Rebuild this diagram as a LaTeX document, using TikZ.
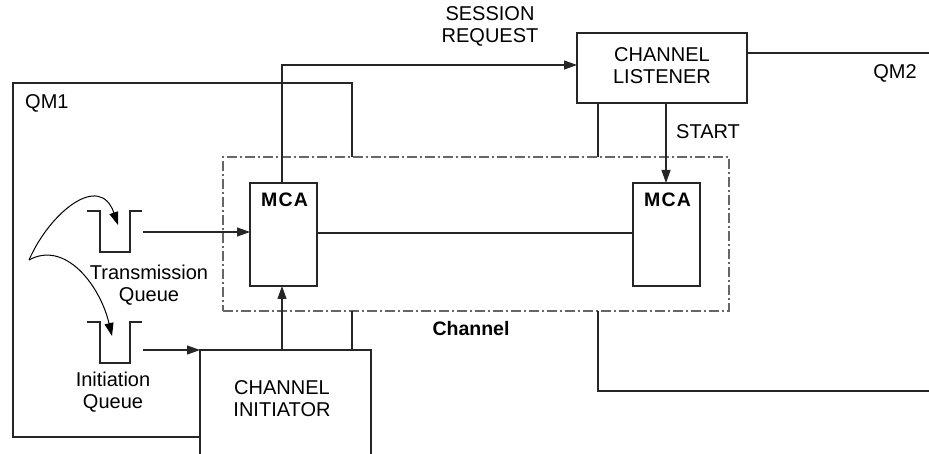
\documentclass[tikz,border=0pt]{standalone}
\usepackage{fontspec}
\setmainfont{Liberation Sans}
\usetikzlibrary{arrows.meta}
\begin{document}
\begin{tikzpicture}[x=1pt,y=-1pt,
  ln/.style={line width=1.2pt,draw=black!85},
  arr/.style={ln,-{Triangle[length=13pt,width=9pt]}},
  box/.style={ln,rectangle,inner sep=0pt,fill=white},
  txt/.style={inner sep=0pt,align=center,font=\fontsize{20}{22}\selectfont},
  btxt/.style={inner sep=0pt,align=center,font=\fontsize{19.5}{22}\selectfont\bfseries\addfontfeature{LetterSpace=6}},
  chtxt/.style={inner sep=0pt,align=center,font=\fontsize{19.5}{22}\selectfont\bfseries},
  chan/.style={line width=1.2pt,draw=black!60,dash pattern=on 10pt off 3pt on 2pt off 3pt}]
\useasboundingbox (0,0) rectangle (929,454);
% channel (dash-dot)
\node[chan,rectangle,minimum width=506pt,minimum height=154pt,inner sep=0pt] (chanbox) at (476,234) {};
% boxes
\node[box,minimum width=170pt,minimum height=70pt] (cl) at (662,68) {};
\node[txt] (cltext) at (662,66) {CHANNEL\\LISTENER};
\node[box,minimum width=67pt,minimum height=103pt] (mca1) at (283.5,234.5) {};
\node[box,minimum width=67pt,minimum height=103pt] (mca2) at (666.5,234.5) {};
\node[btxt] (mca1t) at (284.5,200) {MCA};
\node[btxt] (mca2t) at (667.5,200) {MCA};
% channel initiator (open at the bottom)
\coordinate (ciTL) at (200,350);
\coordinate (ciTR) at (371,350);
\coordinate (ciBL) at (200,454);
\coordinate (ciBR) at (371,454);
\draw[ln] (ciBL) -- (ciTL) -- (ciTR) -- (ciBR);
\node[txt] (ci) at (282,399) {CHANNEL\\INITIATOR};
% QM1 outline
\coordinate (q1a) at (352,157);
\coordinate (q1b) at (352,83);
\coordinate (q1c) at (13,83);
\coordinate (q1d) at (13,437);
\coordinate (q1e) at (200,437);
\draw[ln] (q1a) -- (q1b) -- (q1c) -- (q1d) -- (q1e);
\coordinate (q1f) at (352,311);
\coordinate (q1g) at (352,350);
\draw[ln] (q1f) -- (q1g);
% QM2 outline
\coordinate (q2a) at (598,103);
\coordinate (q2b) at (598,157);
\draw[ln] (q2a) -- (q2b);
\coordinate (q2c) at (747,53);
\coordinate (q2d) at (929,53);
\draw[ln] (q2c) -- (q2d);
\coordinate (q2e) at (598,311);
\coordinate (q2f) at (598,391);
\coordinate (q2g) at (929,391);
\draw[ln] (q2e) -- (q2f) -- (q2g);
% MCA link
\draw[ln] (mca1.east |- 0,233) -- (mca2.west |- 0,233);
% session request
\coordinate (srA) at (282,183);
\coordinate (srB) at (282,65);
\coordinate (srC) at (577,65);
\draw[arr] (srA) -- (srB) -- (srC);
% start
\coordinate (stA) at (666,103);
\coordinate (stB) at (666,183);
\draw[arr] (stA) -- (stB);
% initiator to MCA
\coordinate (ciUp) at (282,350);
\coordinate (mcaDn) at (282,286);
\draw[arr] (ciUp) -- (mcaDn);
% queues
\draw[ln] (87,211) -- (100,211) -- (100,252) -- (130,252) -- (130,211) -- (142,211);
\draw[ln] (87,322) -- (100,322) -- (100,363) -- (130,363) -- (130,322) -- (142,322);
\coordinate (tqOut) at (143,232);
\coordinate (mcaIn) at (250,232);
\draw[arr] (tqOut) -- (mcaIn);
\coordinate (iqOut) at (143,350);
\coordinate (ciIn) at (200,350);
\draw[arr] (iqOut) -- (ciIn);
% curved arrows
\coordinate (cusp) at (29,260);
\coordinate (tqIn) at (118,225);
\coordinate (iqIn) at (112,336);
\draw[line width=1pt,-{Triangle[length=13pt,width=9pt]}] (cusp) .. controls (50,212) and (100,172) .. (tqIn);
\draw[line width=1pt,-{Triangle[length=13pt,width=9pt]}] (cusp) .. controls (65,240) and (100,285) .. (iqIn);
% labels
\node[txt] (sr) at (490,26) {SESSION\\REQUEST};
\node[txt,anchor=west] (start) at (676,132) {START};
\node[txt] (qm2) at (895,73) {QM2};
\node[txt,anchor=west] (qm1) at (25,103) {QM1};
\node[txt] (tq) at (149,285) {Transmission\\Queue};
\node[txt] (iq) at (113,392) {Initiation\\Queue};
\node[chtxt] (chl) at (471,329) {Channel};
\end{tikzpicture}
\end{document}
